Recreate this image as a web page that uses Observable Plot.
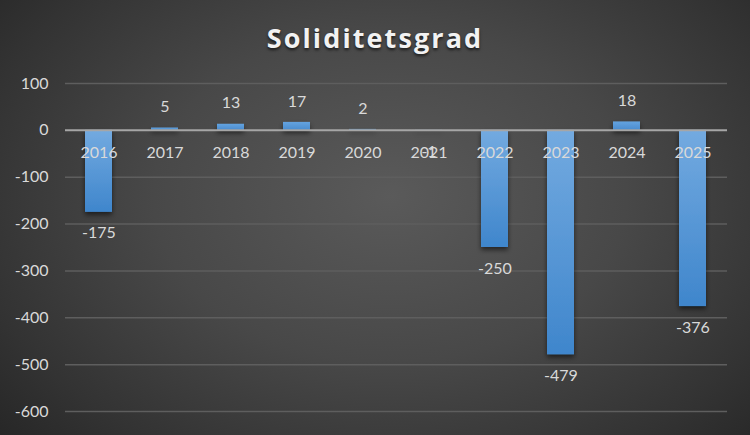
<!DOCTYPE html>
<html>
<head>
<meta charset="utf-8">
<script src="https://cdn.jsdelivr.net/npm/d3@7"></script>
<script src="https://cdn.jsdelivr.net/npm/@observablehq/plot@0.6"></script>
<style>
  html, body { margin: 0; padding: 0; background: #262626; }
  #wrap {
    position: relative; width: 750px; height: 435px; overflow: hidden;
    background: radial-gradient(ellipse 70% 85% at 52% 45%, #5a5a5a 0%, #484848 45%, #333333 80%, #262626 100%);
  }
  #title {
    position: absolute; left: 0; top: 19px; width: 750px; text-align: center;
    font-family: "Open Sans", sans-serif; font-weight: 700; font-size: 27px;
    letter-spacing: 2.1px; color: #f2f2f2;
    text-shadow: 0 2px 3px rgba(0,0,0,0.65);
  }
  #chart { position: absolute; left: 0; top: 0; }
</style>
</head>
<body>
<div id="wrap">
  <div id="chart"></div>
  <div id="title">Soliditetsgrad</div>
</div>
<script>
const years = ["2016","2017","2018","2019","2020","2021","2022","2023","2024","2025"];
const values = [-175, 5, 13, 17, 2, -1, -250, -479, 18, -376];
const yTicks = [-600, -500, -400, -300, -200, -100, 0, 100];

const data = years.map((year, i) => ({year, value: values[i]}));

const textColor = "#d9d9d9";
const font = "Lato, 'Open Sans', sans-serif";

const chart = Plot.plot({
  width: 750,
  height: 435,
  marginLeft: 65,
  marginRight: 23,
  marginTop: 83,
  marginBottom: 24,
  style: { background: "transparent", fontFamily: font, fontSize: "16px", color: textColor },
  x: { domain: years, paddingInner: 0.59, paddingOuter: 0.295, axis: null },
  y: { domain: [-600, 100], ticks: yTicks, tickSize: 0, tickPadding: 17, label: null, tickFormat: d => String(d).replace("−", "-") },
  marks: [
    Plot.ruleY(yTicks.filter(t => t !== 0), { stroke: "#5e5e5e", strokeWidth: 1.5 }),
    Plot.barY(data, { x: "year", y: "value", fill: d => d.value >= 0 ? "url(#gradPos)" : "url(#gradNeg)", filter: d => d.value !== 0 }),
    Plot.ruleY([0], { stroke: "#a6a6a6", strokeWidth: 2 }),
    Plot.text(data, { x: "year", y: () => 0, dy: 23, text: "year", fill: textColor, fontSize: 16 }),
    Plot.text(data.filter(d => d.value >= 0), { x: "year", y: "value", dy: -21, text: d => String(d.value), fill: textColor, fontSize: 16 }),
    Plot.text(data.filter(d => d.value < 0), { x: "year", y: "value", dy: 21, text: d => "-" + Math.abs(d.value), fill: textColor, fontSize: 16 })
  ]
});

// gradients and shadow
const ns = "http://www.w3.org/2000/svg";
const defs = document.createElementNS(ns, "defs");
defs.innerHTML = `
  <linearGradient id="gradPos" x1="0" y1="0" x2="0" y2="1">
    <stop offset="0" stop-color="#64a3df"/>
    <stop offset="1" stop-color="#4a8ccf"/>
  </linearGradient>
  <linearGradient id="gradNeg" x1="0" y1="0" x2="0" y2="1">
    <stop offset="0" stop-color="#73aae0"/>
    <stop offset="1" stop-color="#3f86cc"/>
  </linearGradient>
  <filter id="shadow" x="-30%" y="-30%" width="160%" height="160%">
    <feDropShadow dx="0" dy="3" stdDeviation="2.5" flood-color="#000" flood-opacity="0.55"/>
  </filter>`;
chart.insertBefore(defs, chart.firstChild);
chart.querySelectorAll("g[aria-label='bar']").forEach(g => g.setAttribute("filter", "url(#shadow)"));
chart.querySelectorAll("g[aria-label='y-axis tick label'] text, g[aria-label='y-axis tick label']").forEach(el => el.setAttribute("fill", textColor));
document.getElementById("chart").appendChild(chart);
</script>
</body>
</html>
